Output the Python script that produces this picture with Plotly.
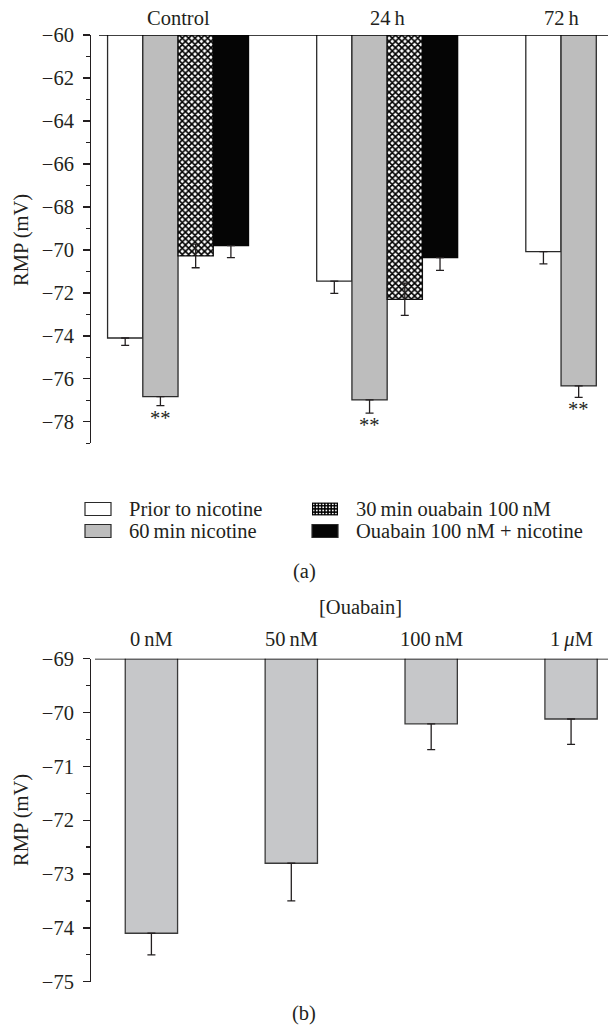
import base64
import plotly.graph_objects as go

# ---------------- data (panel a) ----------------
groups = ["Control", "24 h", "72 h"]
group_labels = ["Control", "24\u2009h", "72\u2009h"]
prior = [-74.10, -71.45, -70.08]
prior_err = [0.34, 0.57, 0.57]
nic60 = [-76.83, -76.98, -76.33]
nic60_err = [0.42, 0.62, 0.53]
ouab30 = [-70.28, -72.30, None]
ouab30_err = [0.55, 0.75, 0]
ouabnic = [-69.80, -70.36, None]
ouabnic_err = [0.56, 0.59, 0]
signif = ["**", "**", "**"]
series_names = ["Prior to nicotine", "60\u2009min nicotine",
                "30\u2009min ouabain 100\u2009nM", "Ouabain 100 nM + nicotine"]

# ---------------- data (panel b) ----------------
conc = ["0 nM", "50 nM", "100 nM", "1 uM"]
conc_labels = ["0\u2009nM", "50\u2009nM", "100\u2009nM", "1\u2009<i>\u03bc</i>M"]
rmp_b = [-74.10, -72.80, -70.21, -70.12]
rmp_b_err = [0.40, 0.70, 0.48, 0.47]

FONT = "Liberation Serif, Times New Roman, serif"
FS = 20.5
INK = "#231f20"
GRAY_A = "#bdbdbd"
GRAY_B = "#c6c7c9"
W, H = 608, 1030

def py(p):  # pixel from top -> paper y
    return 1 - p / H

def px_(p):
    return p / W

fig = go.Figure()

line = dict(color="#2a2a2a", width=1.3)
def down_err(e):
    return dict(type="data", symmetric=False, array=[0] * len(e), arrayminus=e,
                color=INK, thickness=1.3, width=4)

hatch = dict(shape="x", fgcolor="black", bgcolor="white", size=4.5, solidity=0.6)

fig.add_trace(go.Bar(x=groups, y=prior, name=series_names[0],
                     marker=dict(color="white", line=line),
                     error_y=down_err(prior_err), xaxis="x", yaxis="y"))
fig.add_trace(go.Bar(x=groups, y=nic60, name=series_names[1],
                     marker=dict(color=GRAY_A, line=line),
                     error_y=down_err(nic60_err), xaxis="x", yaxis="y"))
fig.add_trace(go.Bar(x=groups, y=ouab30, name=series_names[2],
                     marker=dict(color="white", line=dict(color="#111", width=1.3), pattern=hatch),
                     error_y=dict(type="data", array=ouab30_err, color=INK, thickness=1.3, width=4),
                     xaxis="x", yaxis="y"))
fig.add_trace(go.Bar(x=groups, y=ouabnic, name=series_names[3],
                     marker=dict(color="#050505", line=dict(color="#050505", width=1.3)),
                     error_y=down_err(ouabnic_err), xaxis="x", yaxis="y"))

fig.add_trace(go.Bar(x=conc, y=rmp_b, width=0.374,
                     marker=dict(color=GRAY_B, line=dict(color="#3a3a3a", width=1.3)),
                     error_y=down_err(rmp_b_err), xaxis="x2", yaxis="y2"))

ax_common = dict(showgrid=False, zeroline=False, showline=True, linecolor=INK, linewidth=1.3,
                 ticks="outside", ticklen=7, tickwidth=1.3, tickcolor=INK, automargin=False,
                 tickfont=dict(family=FONT, size=FS, color=INK), ticklabelstandoff=5)
xhide = dict(showticklabels=False, showline=False, showgrid=False, zeroline=False,
             ticks="", automargin=False, type="category")

fig.update_layout(
    template="none",
    width=W, height=H, margin=dict(l=0, r=0, t=0, b=0, autoexpand=False),
    paper_bgcolor="white", plot_bgcolor="white", showlegend=False, hovermode=False,
    barmode="group", bargap=0.326, bargroupgap=0,
    font=dict(family=FONT, size=FS, color=INK),
    xaxis=dict(domain=[px_(90), 1], range=[-0.421, 2.056], anchor="y", **xhide),
    yaxis=dict(domain=[py(443.3), py(35)], range=[-79, -60], tick0=-60, dtick=2,
               minor=dict(dtick=1, ticklen=4, ticks="outside", tickcolor=INK, tickwidth=1.3),
               anchor="free", position=px_(90), **ax_common),
    xaxis2=dict(domain=[px_(90), 1], range=[-0.439, 3.264], anchor="y2", **xhide),
    yaxis2=dict(domain=[py(981.7), py(658.7)], range=[-75, -69], tick0=-69, dtick=1,
                minor=dict(dtick=0.5, ticklen=4, ticks="outside", tickcolor=INK, tickwidth=1.3),
                anchor="free", position=px_(90), **ax_common),
)

# top reference lines (category axes drawn at the top of each panel)
fig.add_shape(type="line", xref="paper", yref="y", x0=px_(99), x1=1, y0=-60, y1=-60,
              line=dict(color="black", width=1.6))
fig.add_shape(type="line", xref="paper", yref="y2", x0=px_(95), x1=1, y0=-69, y1=-69,
              line=dict(color="black", width=1.6))

# ---------------- manual legend (2 x 2) ----------------
sw_w, sw_h = 26, 13
leg_cols = [85, 312]
leg_rows = [509, 531]
leg_fill = ["white", GRAY_A, None, "#050505"]
leg_pos = [(0, 0), (0, 1), (1, 0), (1, 1)]  # (col, row)
hatch_svg = (
    "<svg xmlns='http://www.w3.org/2000/svg' width='26' height='13'>"
    "<defs><pattern id='p' width='3.2' height='3.2' patternUnits='userSpaceOnUse'>"
    "<rect width='3.2' height='3.2' fill='black'/>"
    "<circle cx='1.6' cy='1.6' r='0.95' fill='white'/></pattern></defs>"
    "<rect x='0' y='0' width='26' height='13' fill='url(#p)'/>"
    "<rect x='0.6' y='0.6' width='24.8' height='11.8' fill='none' stroke='black' stroke-width='1.2'/></svg>"
)
hatch_uri = "data:image/svg+xml;base64," + base64.b64encode(hatch_svg.encode()).decode()

ann = []
for name, fill, (c, r) in zip(series_names, leg_fill, leg_pos):
    x0, yc = leg_cols[c], leg_rows[r]
    if fill is None:
        fig.add_layout_image(dict(source=hatch_uri, xref="paper", yref="paper",
                                  x=px_(x0), y=py(yc - sw_h / 2), sizex=sw_w / W, sizey=sw_h / H,
                                  xanchor="left", yanchor="top", sizing="stretch", layer="above"))
    else:
        fig.add_shape(type="rect", xref="paper", yref="paper",
                      x0=px_(x0), x1=px_(x0 + sw_w), y0=py(yc - sw_h / 2), y1=py(yc + sw_h / 2),
                      fillcolor=fill, line=dict(color="#2a2a2a", width=1.2))
    ann.append(dict(x=px_(x0 + sw_w + 16), y=py(yc), xref="paper", yref="paper", text=name,
                    xanchor="left", yanchor="middle", showarrow=False, font=dict(size=FS)))

bar_w_px = 35.2
for g, lab in zip(groups, group_labels):
    shift = -bar_w_px if g == "72 h" else 0
    ann.append(dict(x=g, xref="x", y=py(18), yref="paper", text=lab, showarrow=False,
                    xshift=shift, xanchor="center", yanchor="middle", font=dict(size=FS)))
for g, v, e, s in zip(groups, nic60, nic60_err, signif):
    ann.append(dict(x=g, xref="x", y=v - e, yref="y", text=s, showarrow=False,
                    xanchor="center", yanchor="middle",
                    xshift=-bar_w_px / 2, yshift=-12, font=dict(size=FS)))
for c, lab in zip(conc, conc_labels):
    ann.append(dict(x=c, xref="x2", y=py(639), yref="paper", text=lab, showarrow=False,
                    xanchor="center", yanchor="middle", font=dict(size=FS)))
ann += [
    dict(x=px_(360.6), y=py(607), text="[Ouabain]"),
    dict(x=0.5, y=py(571), text="(a)"),
    dict(x=0.5, y=py(1013), text="(b)"),
    dict(x=px_(21), y=py(240), text="RMP (mV)", textangle=-90),
    dict(x=px_(21), y=py(820), text="RMP (mV)", textangle=-90),
]
for a in ann[-5:]:
    a.update(xref="paper", yref="paper", xanchor="center", yanchor="middle",
             showarrow=False, font=dict(size=FS))
fig.update_layout(annotations=ann)

# remove the browser's default 8px body margin so the figure sits at the page origin
fig.write_html("out.html", config={"displayModeBar": False, "staticPlot": True},
               post_script="document.body.style.margin='0';document.body.style.padding='0';")
